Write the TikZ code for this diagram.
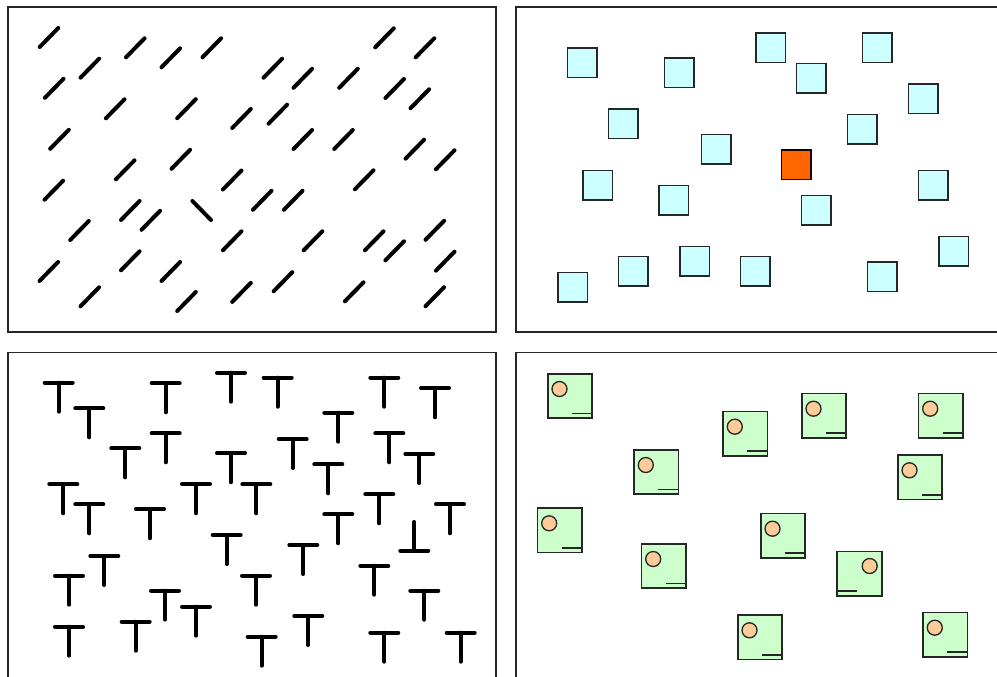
\documentclass[tikz,border=0pt]{standalone}
\definecolor{cyanfill}{HTML}{CCFFFF}
\definecolor{targetorange}{HTML}{FF6600}
\definecolor{greenfill}{HTML}{CCFFCC}
\definecolor{dotfill}{HTML}{FFCC99}
\begin{document}
\begin{tikzpicture}[x=1pt,y=-1pt,
  panel/.style={draw=black!85,line width=1.6pt},
  slash/.style={line width=4pt,line cap=round},
  tee/.style={line width=4pt,line cap=round},
  sq/.style={draw=black!85,line width=1.5pt,fill=cyanfill,minimum size=29.5pt,inner sep=0pt},
  oddsq/.style={sq,fill=targetorange,draw=black!90!red},
  gsq/.style={draw=black!85,line width=1.6pt,fill=greenfill},
  gdot/.style={draw=black!85,line width=1.3pt,fill=dotfill},
  gline/.style={draw=black!85,line width=1.6pt}]
\clip (0,0) rectangle (997,677);
\fill[white] (0,0) rectangle (997,677);
% panels
\draw[panel] (8,7.3) rectangle (495.7,332);
\draw[panel] (516,7.3) rectangle (1010,332);
\draw[panel] (8,352.3) rectangle (495.7,690);
\draw[panel] (516,352.3) rectangle (1010,690);
% panel 1: oriented bars
\foreach \x/\y in {49/37.5,89.8/68.2,135.3/47.8,170.8/57.8,211.8/47.8,54.2/88.3,115.2/108.8,186.5/108.7,241.5/118.5,59.5/139.3,125.2/169.8,180.8/159.3,232.2/180,53.8/190.2,130.3/210.5,150.8/220.3,232.2/240.8,79.5/230.5,48.8/271.5,130.3/260.8,170.8/271.5,89.8/296.8,186.5/301.5,241.5/292.4,384.5/37.8,425/47.8,272.8/68.2,302.8/78.3,348.5/78.3,394.7/88.5,419.8/98.8,277.8/114.2,302.8/139.5,343.5/139.5,414.8/149.2,445.2/159.8,364.2/179.8,262.2/200.3,293.2/200.3,313/240.8,374.2/240.8,394.7/250.8,434.8/230.3,445.2/261.2,283/281.7,354.2/291.8,434.8/296.7}
  \draw[slash] (\x-9.3,\y+9.5) -- (\x+9.3,\y-9.5);
\draw[slash] (201.7-9.3,210.5-9.5) -- (201.7+9.3,210.5+9.5);
% panel 2: squares
\foreach \x/\y [count=\i] in {582.3/63,679/73,623/123.7,716/149,597.8/185,673.8/200.3,572.5/287,633.3/271.3,694.5/261.2,755.2/271.3,770.5/47.7,811.2/78.2,877.2/47.7,923/98.7,862.2/129.2,933.2/185,816.3/210.3,953.8/251.2,882.3/276.7}
  \node[sq] (c\i) at (\x,\y) {};
\node[oddsq] (codd) at (796,164.7) {};
% panel 3: Ts
\foreach \x/\y in {58.7/382.7,89.3/408.3,165.7/383.3,231/372.7,125.3/448.3,165.7/433.3,231/453.3,63.3/484.3,89.3/504.3,150/509.3,196/484.3,226.7/535,104.3/556,69/575.7,165/590.7,196/606.7,69/626.7,135.7/621.7,277.7/377.7,384.3/377.7,435/388.3,338.3/412.7,292.7/439,389.3/433.3,419.3/454,328.3/464.3,256.3/484.3,379.3/494.3,450/504.3,338.3/514.3,303.3/545,256/575.7,374.3/565.7,424.3/590.7,308.3/616,261.7/636.7,384.3/632.7,460.7/632.7}
  \draw[tee] (\x-14,\y) -- (\x+14,\y) (\x,\y) -- (\x,\y+29);
\draw[tee] (414.3-14,550.7) -- (414.3+14,550.7) (414.3,550.7) -- (414.3,522);
% panel 4: conjunction squares
\foreach \x/\y in {547/373,722.3/410.7,633.3/449,536.7/507.3,640.7/543,737/614.3,801/392.7,917.7/392.7,897/454.3,760/512.7,922.3/611.7}{
  \draw[gsq] (\x+0.8,\y+0.8) rectangle (\x+45.2,\y+45.2);
  \draw[gdot] (\x+12.5,\y+16) circle[radius=7.5pt];
  \draw[gline] (\x+25,\y+40.5) -- (\x+45.2,\y+40.5);
}
\draw[gsq] (836.8,551.5) rectangle (881.9,596.2);
\draw[gdot] (869.7,566) circle[radius=7.5pt];
\draw[gline] (836.8,590.8) -- (857.3,590.8);
\end{tikzpicture}
\end{document}
